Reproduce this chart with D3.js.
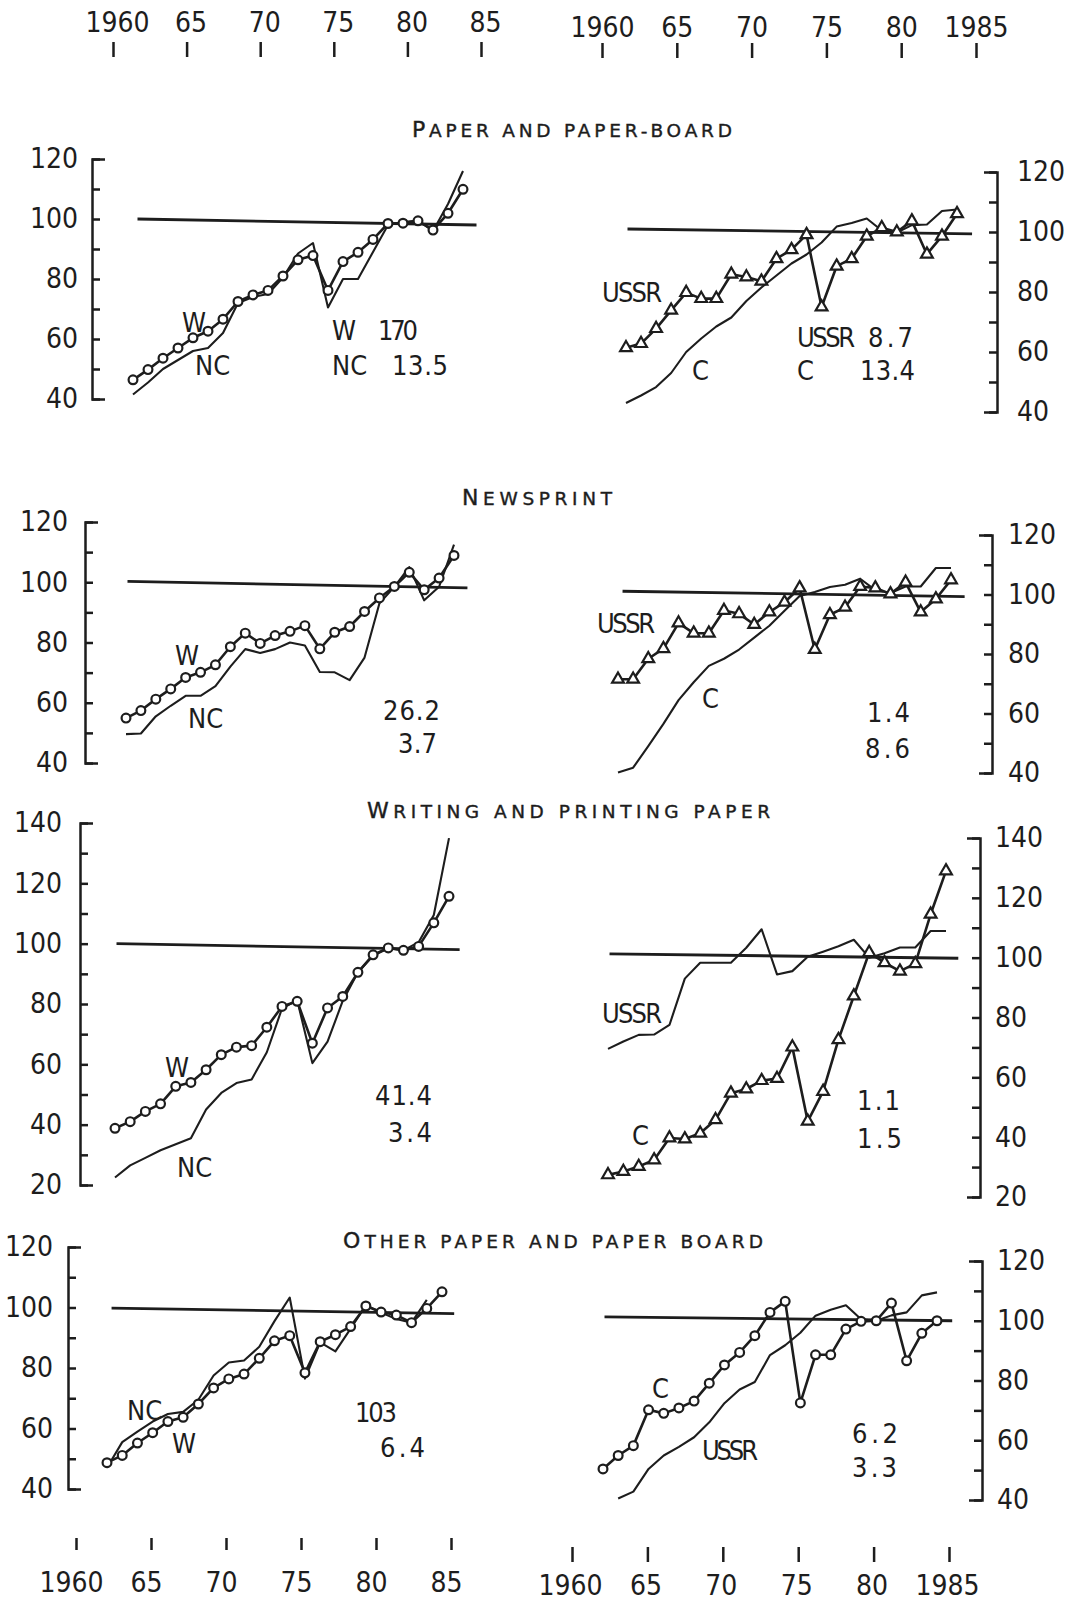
<!DOCTYPE html>
<html>
<head>
<meta charset="utf-8">
<script src="https://cdn.jsdelivr.net/npm/d3@7"></script>
<style>
  body { margin: 0; background: #fff; }
  svg { display: block; }
  text { font-family: "Liberation Sans Narrow", "DejaVu Sans Condensed", "Liberation Sans", sans-serif; font-stretch: condensed; }
</style>
</head>
<body>
<div id="chart"></div>
<script>
// years on every panel
const years = [1962, 1963, 1964, 1965, 1966, 1967, 1968, 1969, 1970, 1971, 1972, 1973,
               1974, 1975, 1976, 1977, 1978, 1979, 1980, 1981, 1982, 1983, 1984];

// year axes
const xTicks = [1960, 1965, 1970, 1975, 1980, 1985];
const xLabelsLeft = ["1960", "65", "70", "75", "80", "85"];
const xLabelsRight = ["1960", "65", "70", "75", "80", "1985"];

const titles = ["Paper and paper-board", "Newsprint", "Writing and printing paper", "Other paper and paper board"];

// paper and paper-board
const paperW = [46.4, 49.8, 53.6, 57.0, 60.4, 62.6, 66.6, 72.5, 74.7, 76.2, 81.0, 86.4, 87.8, 76.2, 85.8, 88.9, 93.2, 98.5, 98.6, 99.4, 96.3, 101.9, 109.9];
const paperNC = [41.5, 45.5, 50, 53, 56, 57, 62, 72, 74, 75, 80.5, 88.5, 92, 70.5, 80, 80, 89, 98, 99, 99.5, 96, 105, 116];
const paperUSSR = [61.4, 62.8, 67.8, 73.9, 79.8, 77.8, 77.8, 85.9, 85.0, 83.6, 91.1, 94.1, 99.1, 75.0, 88.6, 91.1, 98.6, 101.4, 100.0, 103.7, 92.6, 98.6, 106.1];
const paperC = [43, 45.5, 48.3, 53, 60, 64.5, 68.5, 71.5, 77, 81.5, 85.5, 89.5, 92.5, 96.5, 101.8, 103, 104.5, 100.5, 99.8, 102.3, 102.5, 107, 107.5];

// newsprint
const newsW = [54.9, 57.4, 61.2, 64.6, 68.4, 70.1, 72.6, 78.6, 83.1, 79.7, 82.3, 83.7, 85.6, 77.9, 83.4, 85.3, 90.3, 94.8, 98.6, 103.3, 97.5, 101.4, 108.9];
const newsNC = [49.6, 49.8, 55.5, 59, 62.3, 62.3, 65.5, 72, 77.8, 76.5, 77.8, 80, 79, 70.2, 70.1, 67.5, 75, 93, 98.5, 105, 94, 98.5, 112.5];
const newsUSSR = [71.5, 71.5, 78.4, 81.8, 90.4, 87, 87, 94.6, 93.5, 89.9, 94.1, 97.4, 102.2, 81.5, 93.2, 95.7, 102.7, 102.2, 100.2, 104.1, 94.1, 98.5, 104.9];
const newsC = [40.2, 41.8, 49, 56.5, 64.5, 70.5, 76, 78.4, 81.5, 85.5, 89.5, 94.5, 99.5, 100.8, 102.5, 103.3, 105.3, 101.5, 100.5, 102.7, 102.7, 108.9, 108.9];

// writing and printing paper
const writeW = [38.8, 41, 44.4, 46.9, 52.7, 54, 58.2, 63.2, 65.7, 66.2, 72.3, 79.2, 80.9, 67, 78.7, 82.5, 90.5, 96.3, 98.6, 97.8, 99.1, 106.9, 115.7];
const writeNC = [22.5, 26.5, 29, 31.5, 33.5, 35.5, 45, 50.5, 53.8, 55, 64, 78.5, 81.3, 60.4, 67.5, 81, 90.5, 96, 98.5, 97.8, 100.5, 109.5, 135];
const writeC = [27.4, 28.5, 30.2, 32.4, 39.7, 39.4, 41.3, 45.8, 54.7, 56.1, 58.9, 59.6, 70.1, 45.3, 55.3, 72.6, 87.2, 101.7, 98.3, 95.5, 98, 114.5, 129];
const writeUSSR = [69.5, 72, 74.2, 74.3, 77.5, 93, 98.3, 98.3, 98.3, 103.3, 109.5, 94.4, 95.5, 100.3, 102, 103.8, 106, 100, 101.5, 103.4, 103.4, 108.9, 108.9];

// other paper and paper board
const otherW = [48.7, 51.1, 55.2, 58.6, 62.3, 63.7, 68.1, 73.4, 76.4, 78, 83.2, 89, 90.7, 78.4, 88.7, 91, 93.7, 100.5, 98.5, 97.5, 95, 99.7, 105.2];
const otherNC = [47, 55.5, 59, 62.3, 64.8, 65.5, 69.5, 77.5, 81.8, 82.5, 87, 95.5, 103.3, 76.5, 88.5, 85.5, 93, 100.8, 98.3, 96.2, 95, 102.5]; // 1962-83
const otherC = [50.4, 54.9, 58.2, 70.2, 69, 70.8, 73.1, 79.1, 85.2, 89.4, 95, 102.8, 106.5, 72.5, 88.6, 88.6, 97.2, 99.8, 100, 105.9, 86.6, 95.8, 100];
const otherUSSR = [40.5, 42.8, 50.4, 54.9, 57.8, 61, 66, 72.4, 77, 79.5, 88.5, 91.8, 96, 101.7, 103.7, 105.2, 100.5, 100, 101.8, 102.8, 108.5, 109.5]; // 1963-84

// the "100" line drawn in each panel: [start year, end year], [start value, end value]
const refYears = [[1962.3, 1984.9], [1962.1, 1985.0], [1962.1, 1984.9], [1962.3, 1984.9],
                  [1962.1, 1984.7], [1962.1, 1984.8], [1962.3, 1984.8], [1962.1, 1985.0]];
const refValues = [[100, 98], [101, 99.4], [100.3, 98.1], [101.1, 99.3],
                   [100, 98], [101.3, 99.8], [99.8, 98], [101.3, 100]];

const ink = "#1d1d1d";
const W = 1066, H = 1602;

const svg = d3.select("#chart").append("svg")
  .attr("width", W)
  .attr("height", H);

svg.append("rect").attr("width", W).attr("height", H).attr("fill", "#fff");

// panel layout (pixels), one entry per small chart
const panels = [
  { side: "left", axisX: 92, yBottom: 399, yTop: 159, yDomain: [40, 120], xStart: 133, xEnd: 463, gap: 14,
    marked: { values: paperW, years: years, symbol: "circle" },
    plain: { values: paperNC, years: years },
    notes: [["W", 182, 332], ["NC", 195, 375], ["W", 332, 340], ["170", 378, 340, 40], ["NC", 332, 375], ["13.5", 392, 375, 56]] },
  { side: "right", axisX: 997, yBottom: 412, yTop: 172, yDomain: [40, 120], xStart: 626, xEnd: 957, gap: 20,
    marked: { values: paperUSSR, years: years, symbol: "triangle" },
    plain: { values: paperC, years: years },
    notes: [["USSR", 602, 302, 60], ["C", 692, 380], ["USSR", 797, 347, 58], ["8.7", 868, 347, 45], ["C", 797, 380], ["13.4", 860, 380, 55]] },
  { side: "left", axisX: 85, yBottom: 763, yTop: 522, yDomain: [40, 120], xStart: 126, xEnd: 454, gap: 17,
    marked: { values: newsW, years: years, symbol: "circle" },
    plain: { values: newsNC, years: years },
    notes: [["W", 175, 665], ["NC", 188, 728], ["26.2", 383, 720, 57], ["3.7", 398, 753, 39]] },
  { side: "right", axisX: 992, yBottom: 773, yTop: 535, yDomain: [40, 120], xStart: 618, xEnd: 951, gap: 16,
    marked: { values: newsUSSR, years: years, symbol: "triangle" },
    plain: { values: newsC, years: years },
    notes: [["USSR", 597, 633, 58], ["C", 702, 708], ["1.4", 867, 722, 43], ["8.6", 865, 758, 45]] },
  { side: "left", axisX: 80, yBottom: 1185, yTop: 823, yDomain: [20, 140], xStart: 115, xEnd: 449, gap: 18,
    marked: { values: writeW, years: years, symbol: "circle" },
    plain: { values: writeNC, years: years },
    notes: [["W", 165, 1077], ["NC", 177, 1177], ["41.4", 375, 1105, 57], ["3.4", 388, 1142, 44]] },
  { side: "right", axisX: 980, yBottom: 1197, yTop: 838, yDomain: [20, 140], xStart: 608, xEnd: 946, gap: 15,
    marked: { values: writeC, years: years, symbol: "triangle" },
    plain: { values: writeUSSR, years: years },
    notes: [["USSR", 602, 1023, 60], ["C", 632, 1145], ["1.1", 857, 1110, 43], ["1.5", 857, 1148, 45]] },
  { side: "left", axisX: 68, yBottom: 1489, yTop: 1247, yDomain: [40, 120], xStart: 107, xEnd: 442, gap: 15,
    marked: { values: otherW, years: years, symbol: "circle" },
    plain: { values: otherNC, years: years.slice(0, 22) },
    notes: [["NC", 127, 1420], ["W", 172, 1453], ["103", 355, 1422, 42], ["6.4", 380, 1457, 45]] },
  { side: "right", axisX: 982, yBottom: 1500, yTop: 1261, yDomain: [40, 120], xStart: 603, xEnd: 937, gap: 15,
    marked: { values: otherC, years: years, symbol: "circle" },
    plain: { values: otherUSSR, years: years.slice(1) },
    notes: [["C", 652, 1398], ["USSR", 702, 1460, 56], ["6.2", 852, 1443, 46], ["3.3", 852, 1477, 45]] }
];

// title placement: left x, right x, baseline
const titlePos = [[412, 732, 137], [462, 612, 505], [367, 770, 818], [343, 763, 1248]];

function drawPanel(p, i) {
  let x = d3.scaleLinear().domain([1962, 1984]).range([p.xStart, p.xEnd]);
  let y = d3.scaleLinear().domain(p.yDomain).range([p.yBottom, p.yTop]);

  let tickVals = [];
  for (let v = p.yDomain[0]; v <= p.yDomain[1]; v += 10) tickVals.push(v);

  let axis = (p.side == "left" ? d3.axisLeft(y) : d3.axisRight(y))
    .tickValues(tickVals)
    .tickSizeInner(-8)
    .tickSizeOuter(-13)
    .tickPadding(p.gap)
    .tickFormat(d => d % 20 == 0 ? d : "");

  let g = svg.append("g")
    .attr("transform", "translate(" + p.axisX + ",0)")
    .call(axis)
    .attr("font-family", null)
    .attr("font-size", null);
  g.selectAll("path, line").attr("stroke", ink).attr("stroke-width", 2.5);
  g.selectAll("text").attr("font-size", 28).attr("fill", ink);

  // reference line at 100
  let ref = refYears[i].map((yr, k) => ({ year: yr, value: refValues[i][k] }));
  let line = d3.line().x(d => x(d.year)).y(d => y(d.value));
  svg.append("path").datum(ref)
    .attr("d", line).attr("fill", "none").attr("stroke", ink).attr("stroke-width", 2.8);

  // plain series
  let plain = p.plain.values.map((v, k) => ({ year: p.plain.years[k], value: v }));
  svg.append("path").datum(plain)
    .attr("d", line).attr("fill", "none").attr("stroke", ink)
    .attr("stroke-width", 2.1).attr("stroke-linejoin", "round");

  // series with markers
  let marked = p.marked.values.map((v, k) => ({ year: p.marked.years[k], value: v }));
  svg.append("path").datum(marked)
    .attr("d", line).attr("fill", "none").attr("stroke", ink)
    .attr("stroke-width", 2.6).attr("stroke-linejoin", "round");

  if (p.marked.symbol == "circle") {
    svg.append("g").selectAll("circle")
      .data(marked).enter().append("circle")
      .attr("cx", d => x(d.year))
      .attr("cy", d => y(d.value))
      .attr("r", 4.4)
      .attr("fill", "#fff")
      .attr("stroke", ink)
      .attr("stroke-width", 2.2);
  } else {
    let tri = d3.symbol().type(d3.symbolTriangle).size(60);
    svg.append("g").selectAll("path")
      .data(marked).enter().append("path")
      .attr("d", tri)
      .attr("transform", d => "translate(" + x(d.year) + "," + y(d.value) + ")")
      .attr("fill", "#fff")
      .attr("stroke", ink)
      .attr("stroke-width", 2.2);
  }

  // in-panel labels
  p.notes.forEach(n => {
    let t = svg.append("text")
      .attr("x", n[1]).attr("y", n[2])
      .attr("font-size", 27)
      .attr("fill", ink)
      .text(n[0]);
    if (n[3]) t.attr("textLength", n[3]).attr("lengthAdjust", "spacing");
  });
}

panels.forEach(drawPanel);

// titles: first letter large, the rest in small capitals
titles.forEach((t, i) => {
  let txt = svg.append("text")
    .attr("x", titlePos[i][0])
    .attr("y", titlePos[i][2])
    .style("font-family", "'DejaVu Sans', sans-serif")
    .style("font-stretch", "normal")
    .attr("textLength", titlePos[i][1] - titlePos[i][0])
    .attr("lengthAdjust", "spacing")
    .attr("fill", ink)
    .attr("stroke", ink)
    .attr("stroke-width", 0.4);
  txt.append("tspan").attr("font-size", 22).text(t[0].toUpperCase());
  txt.append("tspan").attr("font-size", 18.5).text(t.slice(1).toUpperCase());
});

// year axes, top and bottom of the page
function yearAxis(range, yPos, orient, labels, size, pad, dx) {
  let s = d3.scaleLinear().domain([1960, 1985]).range(range);
  let ax = (orient == "top" ? d3.axisTop(s) : d3.axisBottom(s))
    .tickValues(xTicks)
    .tickSize(size)
    .tickPadding(pad)
    .tickFormat((d, i) => labels[i]);
  let g = svg.append("g")
    .attr("transform", "translate(0," + yPos + ")")
    .call(ax)
    .attr("font-family", null)
    .attr("font-size", null);
  g.select(".domain").remove();
  g.selectAll("line").attr("stroke", ink).attr("stroke-width", 2.5);
  g.selectAll("text").attr("font-size", 28).attr("fill", ink).attr("dx", dx);
}

yearAxis([113, 481], 57, "top", xLabelsLeft, 15, 10, 4);
yearAxis([602, 976], 58, "top", xLabelsRight, 15, 6, 0);
yearAxis([76, 451], 1538, "bottom", xLabelsLeft, 12, 22, -5);
yearAxis([572, 949], 1547, "bottom", xLabelsRight, 15, 13, -2);
</script>
</body>
</html>
